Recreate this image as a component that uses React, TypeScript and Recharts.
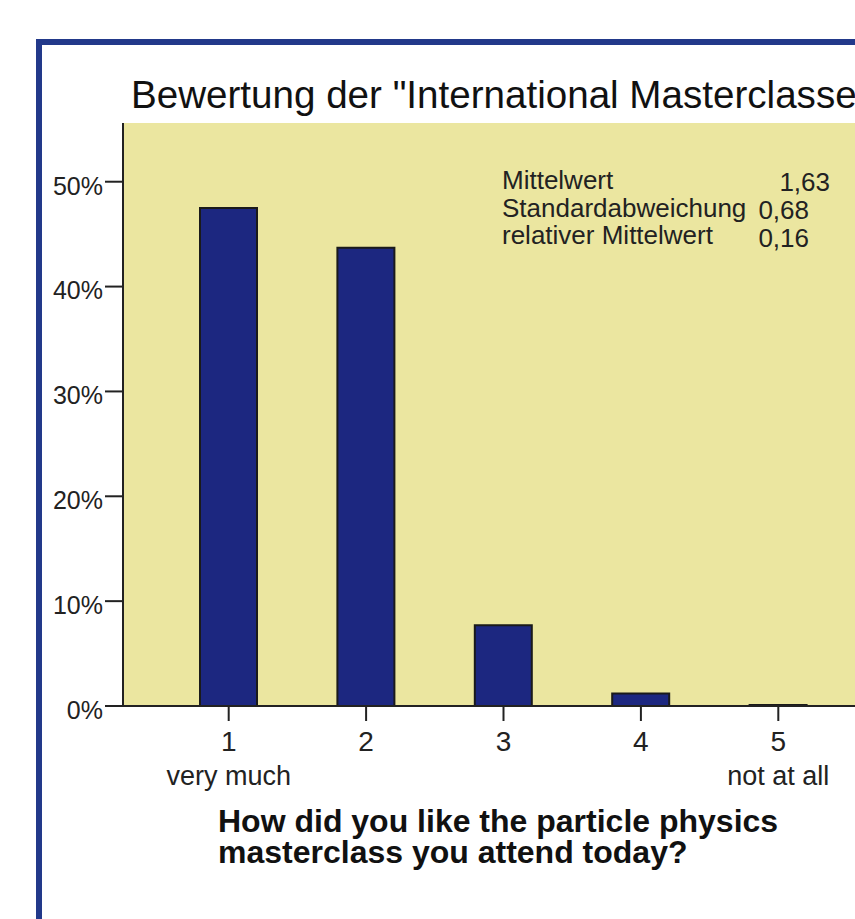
import React from 'react';
import { BarChart, Bar, XAxis, YAxis, CartesianGrid } from 'recharts';

const categories = ['1', '2', '3', '4', '5'];
const subLabels = ['very much', '', '', '', 'not at all'];
const percentages = [47.5, 43.7, 7.7, 1.2, 0.1];
const yTicks = [0, 10, 20, 30, 40, 50];
const statLabels = ['Mittelwert', 'Standardabweichung', 'relativer Mittelwert'];
const statValues = ['1,63', '0,68', '0,16'];
const chartTitle = 'Bewertung der "International Masterclasses"';
const axisTitle = ['How did you like the particle physics', 'masterclass you attend today?'];

const data = categories.map((c, i) => ({ category: c, sub: subLabels[i], value: percentages[i] }));

const FONT = 'Arial, "Liberation Sans", sans-serif';

const XTick = (props: any) => {
  const { x, y, payload, index } = props;
  const sub = subLabels[index ?? payload.index];
  return (
    <g>
      <text x={x} y={y + 22} textAnchor="middle" fontSize={28} fontFamily={FONT} fill="#222">{payload.value}</text>
      {sub && <text x={x} y={y + 56} textAnchor="middle" fontSize={27} fontFamily={FONT} fill="#222">{sub}</text>}
    </g>
  );
};

export default function App() {
  return (
    <div style={{ position: 'absolute', left: 0, top: 0, width: 855, height: 919, overflow: 'hidden', background: '#fff' }}>
      <div style={{ position: 'absolute', left: 36, top: 39, width: 900, height: 950, border: '6px solid #22398a', boxSizing: 'border-box' }} />
      <div style={{ position: 'absolute', left: 0, top: 0 }}>
        <BarChart width={900} height={919} data={data} margin={{ top: 123, right: 16, bottom: 123, left: 43 }}>
          <CartesianGrid fill="#ebe6a0" horizontal={false} vertical={false} />
          <XAxis xAxisId="top" orientation="top" dataKey="category" height={0} tick={false} tickLine={false}
            axisLine={{ stroke: '#222', strokeWidth: 2 }} />
          <XAxis dataKey="category" height={90} padding={{ left: 37, right: 37 }} tickSize={15} tickMargin={8}
            axisLine={{ stroke: '#222', strokeWidth: 2 }} tickLine={{ stroke: '#222', strokeWidth: 2 }}
            tick={<XTick />} interval={0} />
          <YAxis domain={[0, 55.6]} ticks={yTicks} width={80} tickSize={18} tickMargin={2}
            tickFormatter={v => `${v}%`} axisLine={{ stroke: '#222', strokeWidth: 2 }}
            tickLine={{ stroke: '#222', strokeWidth: 2 }}
            tick={{ fontSize: 25, fill: '#222', fontFamily: FONT, dy: 4 }} />
          <Bar dataKey="value" barSize={57} fill="#1c2780" stroke="#1a1a1a" strokeWidth={2} isAnimationActive={false} />
        </BarChart>
      </div>
      <svg width={855} height={919} style={{ position: 'absolute', left: 0, top: 0, pointerEvents: 'none' }}>
        <text x={131} y={108} fontSize={38.6} fontFamily={FONT} fill="#111">{chartTitle}</text>
        {statLabels.map((s, i) => (
          <text key={s} x={502} y={189 + i * 27.5} fontSize={26} fontFamily={FONT} fill="#222">{s}</text>
        ))}
        {statValues.map((s, i) => (
          <text key={s} x={i === 0 ? 830 : 809} y={191 + i * 28} textAnchor="end" fontSize={26} fontFamily={FONT} fill="#222">{s}</text>
        ))}
        {axisTitle.map((s, i) => (
          <text key={s} x={218} y={832 + i * 31} fontSize={32} fontWeight="bold" fontFamily={FONT} fill="#111">{s}</text>
        ))}
      </svg>
    </div>
  );
}
